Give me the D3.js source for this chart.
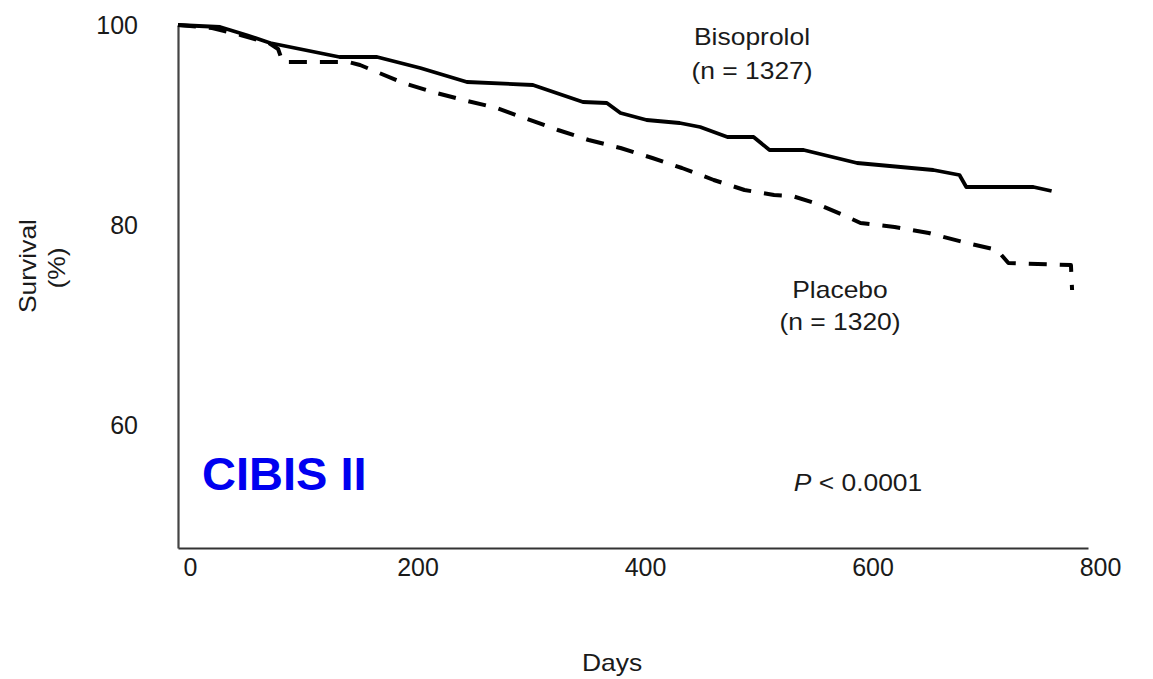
<!DOCTYPE html>
<html>
<head>
<meta charset="utf-8">
<script src="https://cdn.jsdelivr.net/npm/d3@7"></script>
<style>
  html, body { margin: 0; padding: 0; background: #fff; }
  svg { display: block; }
  text { font-family: "Liberation Sans", Arial, Helvetica, sans-serif; }
</style>
</head>
<body>
<svg id="chart" width="1153" height="679"></svg>
<script>
// ---- data ----
const xTicks = [0, 200, 400, 600, 800];
const yTicks = [60, 80, 100];

const bisoprololDays = [0, 37, 60, 81, 142, 175, 213, 254, 312, 356, 377, 389, 412, 441, 459, 483, 506, 520, 550, 597, 664, 687, 693, 752, 768];
const bisoprololSurv = [100, 99.8, 99.0, 98.2, 96.8, 96.8, 95.7, 94.3, 94.0, 92.3, 92.2, 91.2, 90.5, 90.2, 89.8, 88.8, 88.8, 87.5, 87.5, 86.2, 85.5, 85.0, 83.8, 83.8, 83.4];

const placeboDays = [0, 30, 55, 80, 88, 92, 150, 160, 198, 224, 251, 280, 307, 334, 361, 389, 417, 443, 471, 498, 524, 540, 560, 585, 600, 630, 660, 690, 720, 730, 785, 786];
const placeboSurv = [100, 99.7, 99.0, 98.2, 97.6, 96.3, 96.3, 96.0, 94.2, 93.3, 92.5, 91.7, 90.6, 89.5, 88.5, 87.7, 86.7, 85.7, 84.5, 83.5, 83.0, 82.9, 82.2, 81.0, 80.2, 79.8, 79.2, 78.3, 77.5, 76.2, 76.0, 73.5];

const seriesLabels = [
  { name: "Bisoprolol", n: "(n = 1327)" },
  { name: "Placebo", n: "(n = 1320)" }
];

// ---- layout ----
const svg = d3.select("#chart");
const x = d3.scaleLinear().domain([0, 800]).range([178, 1088]);
const y = d3.scaleLinear().domain([47.7, 100]).range([548, 25]);

// axes
const xAxis = svg.append("g")
  .attr("transform", `translate(0,${y(47.7)})`)
  .call(d3.axisBottom(x).tickValues(xTicks).tickSize(0).tickSizeOuter(0).tickPadding(10));
xAxis.select(".domain").attr("stroke", "#333").attr("stroke-width", 2.2);
xAxis.selectAll(".tick text")
  .attr("font-size", 25).attr("fill", "#1a1a1a")
  .attr("font-family", "'Liberation Sans', Arial, sans-serif")
  .attr("dx", 12);

const yAxis = svg.append("g")
  .attr("transform", `translate(${x(0)},0)`)
  .call(d3.axisLeft(y).tickValues(yTicks).tickSize(0).tickSizeOuter(0).tickPadding(40));
yAxis.select(".domain").attr("stroke", "#444").attr("stroke-width", 2.2);
yAxis.selectAll(".tick text")
  .attr("font-size", 25).attr("fill", "#1a1a1a")
  .attr("font-family", "'Liberation Sans', Arial, sans-serif");

// curves
const line = d3.line().x(d => x(d[0])).y(d => y(d[1]));
const bis = bisoprololDays.map((d, i) => [d, bisoprololSurv[i]]);
const pla = placeboDays.map((d, i) => [d, placeboSurv[i]]);

svg.append("path").datum(pla)
  .attr("d", line).attr("fill", "none").attr("stroke", "#000")
  .attr("stroke-width", 4).attr("stroke-dasharray", "18,13")
  .attr("stroke-linejoin", "round");
svg.append("path").datum(bis)
  .attr("d", line).attr("fill", "none").attr("stroke", "#000")
  .attr("stroke-width", 3.8).attr("stroke-linejoin", "round");

// text helper with slight horizontal stretch like the reference
function label(txt, cx, cy, size, sx, opts = {}) {
  const rot = opts.rotate ? ` rotate(${opts.rotate})` : "";
  return svg.append("text")
    .attr("transform", `translate(${cx},${cy})${rot} scale(${sx},1)`)
    .attr("text-anchor", "middle")
    .attr("dominant-baseline", "central")
    .attr("font-size", size)
    .attr("fill", opts.fill || "#1a1a1a")
    .text(txt);
}

// series labels
label(seriesLabels[0].name, 752, 37, 23, 1.15);
label(seriesLabels[0].n, 752, 71, 23, 1.15);
label(seriesLabels[1].name, 840, 290, 23, 1.15);
label(seriesLabels[1].n, 840, 322, 23, 1.15);

// p-value
const p = svg.append("text")
  .attr("transform", `translate(858,482) scale(1.1,1)`)
  .attr("text-anchor", "middle").attr("dominant-baseline", "central")
  .attr("font-size", 24).attr("fill", "#1a1a1a");
p.append("tspan").attr("font-style", "italic").text("P");
p.append("tspan").text(" < 0.0001");

// study name
svg.append("text")
  .attr("x", 202).attr("y", 490)
  .attr("font-size", 47).attr("font-weight", "bold")
  .attr("fill", "#0000f0")
  .text("CIBIS II");

// axis titles
label("Days", 612, 663, 23, 1.15);
label("Survival", 28, 266, 23, 1.15, { rotate: -90 });
label("(%)", 57, 268, 23, 1.15, { rotate: -90 });
</script>
</body>
</html>
